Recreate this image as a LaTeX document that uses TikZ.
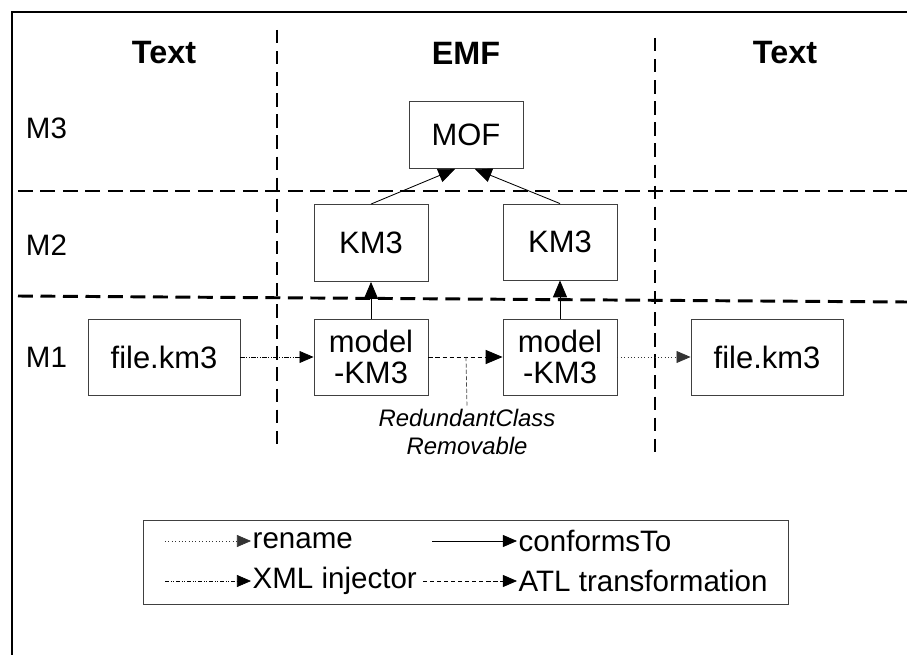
\documentclass[tikz,border=0pt]{standalone}
\usepackage{fontspec}
\setmainfont{Liberation Sans}
\usetikzlibrary{arrows.meta}
\tikzset{
  block/.style={draw=black!75, line width=0.6pt, minimum width=2.85cm, minimum height=1.9cm,
    align=center, font=\fontsize{22}{22}\selectfont},
  sep/.style={line width=2.1pt, dash pattern=on 9.5pt off 5.5pt},
  tip/.style={-{Triangle[length=12pt,width=10pt]}},
  smalltip/.style={-{Triangle[length=10pt,width=8.5pt]}},
  conforms/.style={tip, line width=0.6pt},
  rename/.style={smalltip, line width=0.5pt, black!80, dash pattern=on 0.6pt off 1.8pt},
  injector/.style={smalltip, line width=0.5pt, dash pattern=on 3pt off 1.2pt on 0.6pt off 1.2pt on 0.6pt off 1.2pt},
  atl/.style={tip, line width=0.6pt, dash pattern=on 3pt off 2pt},
  head/.style={font=\fontsize{23}{26}\selectfont\bfseries},
  level/.style={anchor=west, font=\fontsize{21}{24}\selectfont},
  legtext/.style={anchor=west, inner sep=1pt, font=\fontsize{21}{24}\selectfont}
}
\begin{document}
\begin{tikzpicture}[x=0.025cm, y=-0.025cm]
\useasboundingbox (0,0) rectangle (907,655);
% frame
\draw[line width=1.2pt] (12,670) -- (12,12) -- (920,12);
% columns and levels
\draw[sep] (277,30) -- (277,445);
\draw[sep] (655,38) -- (655,457);
\draw[sep, dash pattern=on 10.5pt off 5.5pt] (18,191) -- (907,191);
\draw[sep, dash pattern=on 10.5pt off 5.5pt] (18,296) -- (907,302);
\node[head] (hText1) at (164,53) {Text};
\node[head] (hEMF) at (466,53) {EMF};
\node[head] (hText2) at (785,53) {Text};
\node[level] (lM3) at (21,128) {M3};
\node[level] (lM2) at (21,245) {M2};
\node[level] (lM1) at (21,357) {M1};
% models
\node[block, minimum height=1.675cm] (mof) at (466,135) {MOF};
\node[block, minimum height=1.925cm] (km3a) at (371,243) {KM3};
\node[block, minimum height=1.9cm] (km3b) at (560,242) {KM3};
\node[block] (modela) at (371,357) {model\\-KM3};
\node[block] (modelb) at (560,357) {model\\-KM3};
\node[block, minimum width=3.8cm] (filea) at (164,357) {file.km3};
\node[block, minimum width=3.8cm] (fileb) at (767,357) {file.km3};
\draw[conforms] (km3a.north) -- ([xshift=-0.27cm]mof.south);
\draw[conforms] (km3b.north) -- ([xshift=0.22cm]mof.south);
\draw[conforms] (modela.north) -- (km3a.south);
\draw[conforms] (modelb.north) -- (km3b.south);
\draw[injector] (filea.east) -- (modela.west);
\draw[atl] (modela.east) -- (modelb.west);
\draw[rename] (modelb.east) -- (fileb.west);
\coordinate (atlmid) at (466,357);
\node[font=\fontsize{17}{20}\selectfont\itshape, align=center, inner sep=1pt] (trans) at (467,432)
  {RedundantClass\\Removable};
\draw[black!70, line width=0.5pt, dash pattern=on 3pt off 1.5pt] (atlmid) -- (trans.north);
% legend
\node[draw=black!75, line width=0.6pt, minimum width=16.1cm, minimum height=2.1cm] (legend) at (466,562.5) {};
\node[legtext] (lgRename) at (251,541) {rename};
\node[legtext] (lgConforms) at (517,541) {conformsTo};
\node[legtext] (lgInjector) at (251,581) {XML injector};
\node[legtext] (lgAtl) at (517,581) {ATL transformation};
\coordinate (sRename) at (165,541);
\coordinate (sConforms) at (432,541);
\coordinate (sInjector) at (165,581);
\coordinate (sAtl) at (423,581);
\draw[rename] (sRename) -- (lgRename.west);
\draw[conforms, smalltip] (sConforms) -- (lgConforms.west);
\draw[injector] (sInjector) -- (lgInjector.west);
\draw[atl, smalltip] (sAtl) -- (lgAtl.west);
\end{tikzpicture}
\end{document}
